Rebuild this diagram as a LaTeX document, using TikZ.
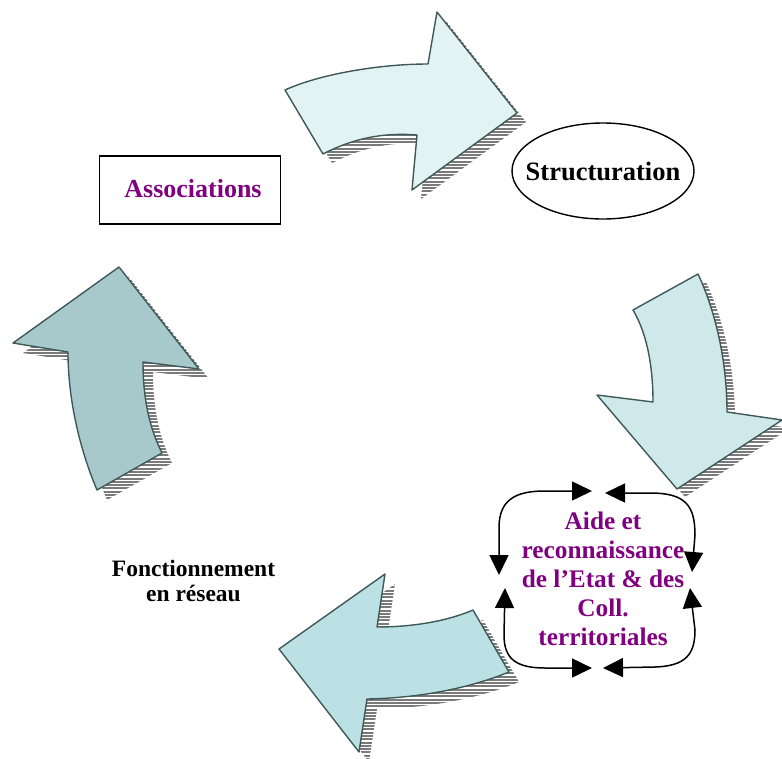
\documentclass[tikz,border=0pt]{standalone}
\usepackage{fontspec}
\setmainfont{Liberation Serif}
\usetikzlibrary{arrows.meta}

\definecolor{edgeteal}{HTML}{3F5858}
\definecolor{fillA}{HTML}{E3F3F3}
\definecolor{fillB}{HTML}{CFE9EB}
\definecolor{fillC}{HTML}{BCE1E4}
\definecolor{fillD}{HTML}{A8C9CB}
\definecolor{stripegray}{HTML}{7A7A7A}
\definecolor{labelpurple}{HTML}{800080}

% outlines of the four curved block arrows
\newcommand\toparrowpath{(285,90) .. controls (320,74) and (380,64) .. (428,64) -- (437,12) -- (517,113) -- (412,190) -- (417,135) .. controls (380,132) and (350,140) .. (323,154) -- cycle}
\newcommand\rightarrowpath{(633,310) -- (698,274) .. controls (715,310) and (727,360) .. (727,412) -- (782,420) -- (677,489) -- (597,395) -- (653,402) .. controls (653,370) and (648,335) .. (633,310) -- cycle}
\newcommand\bottomarrowpath{(473,610) -- (509,672) .. controls (470,688) and (420,698) .. (367,699) -- (359,752) -- (279,649) -- (385,574) -- (377,627) .. controls (410,627) and (445,622) .. (473,610) -- cycle}
\newcommand\leftarrowpath{(97,490) .. controls (80,450) and (68,400) .. (68,352) -- (13,343) -- (119,267) -- (199,369) -- (143,362) .. controls (143,395) and (148,425) .. (162,453) -- cycle}

% striped drop shadow: #1 outline, #2 offset, #3 first and #4 last row
\newcommand\stripedshadow[4]{%
  \begin{scope}
    \clip[shift={#2}] #1;
    \foreach \yy in {#3,...,#4} {
      \draw[stripegray, line width=2pt] (0,\yy*3.3) -- (782,\yy*3.3);
    }
  \end{scope}}

\begin{document}
\begin{tikzpicture}[x=1pt,y=-1pt,
  blockarrow/.style={draw=edgeteal, line width=1.4pt, line join=round},
  cyclearrow/.style={line width=1.5pt, {Triangle[length=20pt,width=19pt]}-{Triangle[length=20pt,width=19pt]}}]
\useasboundingbox (0,0) rectangle (782,758);

% shadows
\stripedshadow{\toparrowpath}{(9,9)}{2}{62}
\stripedshadow{\rightarrowpath}{(8,8)}{82}{152}
\stripedshadow{\bottomarrowpath}{(10,10)}{172}{232}
\stripedshadow{\leftarrowpath}{(10,10)}{80}{155}

% block arrows
\filldraw[blockarrow, fill=fillA] \toparrowpath;
\filldraw[blockarrow, fill=fillB] \rightarrowpath;
\filldraw[blockarrow, fill=fillC] \bottomarrowpath;
\filldraw[blockarrow, fill=fillD] \leftarrowpath;

% labels
\node[draw, line width=1.4pt, minimum width=181pt, minimum height=68pt, inner sep=0pt] (assocbox) at (190,190) {};
\node[font=\fontsize{26}{29}\selectfont\bfseries, inner sep=0pt, text=labelpurple] (assoc) at (193,189) {Associations};
\node[font=\fontsize{26.5}{29}\selectfont\bfseries, inner sep=0pt] (struct) at (603,171) {Structuration};
\draw[line width=1.4pt] (struct.center) ellipse [x radius=91, y radius=48];
\node[font=\fontsize{23.5}{25}\selectfont\bfseries, align=center, inner sep=0pt] (reseau) at (193.5,581) {Fonctionnement\\en réseau};
\node[font=\fontsize{25.3}{29}\selectfont\bfseries, align=center, inner sep=0pt, text=labelpurple] (aide) at (603,578.5) {Aide et\\reconnaissance\\de l’Etat \& des\\Coll.\\territoriales};

% ends of the four corner arrows around the central label
\coordinate (tlA) at (499,575); \coordinate (tlB) at (592,491);
\coordinate (trA) at (605,493); \coordinate (trB) at (692,572);
\coordinate (blA) at (505,588); \coordinate (blB) at (592,668);
\coordinate (brA) at (690,588); \coordinate (brB) at (603,668);

\draw[cyclearrow] (tlA) -- (499,528) .. controls (499,500) and (515,491) .. (545,491) -- (tlB);
\draw[cyclearrow] (trA) -- (650,493) .. controls (685,493) and (695,505) .. (695,535) -- (trB);
\draw[cyclearrow] (blA) -- (504,635) .. controls (504,658) and (515,668) .. (545,668) -- (blB);
\draw[cyclearrow] (brA) -- (695,630) .. controls (695,655) and (685,666) .. (655,667) -- (brB);
\end{tikzpicture}
\end{document}
